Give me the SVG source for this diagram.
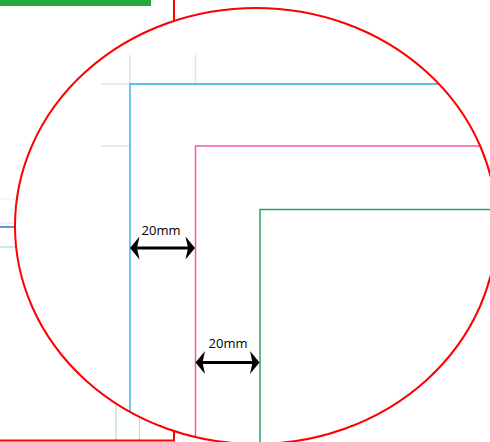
<svg xmlns="http://www.w3.org/2000/svg" width="490" height="442" viewBox="0 0 490 442">
<style>
.grid{stroke:#e2e2e2;stroke-width:1.5;fill:none}
.blue{stroke:#5cc0ee;stroke-width:1.8;fill:none}
.pink{stroke:#ee5aa8;stroke-width:1.5;fill:none}
.green{stroke:#2f9f57;stroke-width:1.5;fill:none}
.red{stroke:#ff0000;stroke-width:2;fill:none}
.dim{stroke:#000;stroke-width:3;fill:none}
.head{fill:#000}
.lbl{font-family:"Open Sans","Noto Sans",sans-serif;font-size:13px;fill:#000;text-anchor:middle}
</style>
<defs>
<clipPath id="ell"><ellipse cx="256" cy="226" rx="241" ry="218"/></clipPath>
</defs>
<rect width="490" height="442" fill="#fff"/>
<g id="original">
<rect x="0" y="0" width="151" height="6" fill="#25a83b"/>
<line x1="0" y1="199" x2="16" y2="199" stroke="#eeeeee" stroke-width="1"/>
<line x1="0" y1="223" x2="16" y2="223" stroke="#f3dcea" stroke-width="1"/>
<line x1="0" y1="227" x2="16" y2="227" stroke="#5b9bd5" stroke-width="2"/>
<line x1="0" y1="247" x2="16" y2="247" stroke="#c3e2d0" stroke-width="1.5"/>
<line x1="116" y1="400" x2="116" y2="440" stroke="#b6dcc4" stroke-width="1.2"/>
<line x1="139.5" y1="415" x2="139.5" y2="440" stroke="#ecc6de" stroke-width="1.2"/>
<polyline class="red" points="0,440.5 174,440.5 174,0"/>
</g>
<g id="zoom" clip-path="url(#ell)">
<rect width="490" height="442" fill="#fff"/>
<g id="cropmarks">
<line class="grid" x1="130" y1="55" x2="130" y2="84"/>
<line class="grid" x1="195.5" y1="55" x2="195.5" y2="84"/>
<line class="grid" x1="101" y1="84" x2="130" y2="84"/>
<line class="grid" x1="101" y1="146" x2="130" y2="146"/>
</g>
<g id="blue-border"><polyline class="blue" points="130,450 130,84 500,84"/></g>
<g id="pink-border"><polyline class="pink" points="195.5,450 195.5,146 500,146"/></g>
<g id="green-border"><polyline class="green" points="260,450 260,209.5 500,209.5"/></g>
</g>
<g id="callout"><ellipse class="red" cx="256" cy="226" rx="241" ry="218"/></g>
<g id="connectors">
<line class="dim" x1="135" y1="248" x2="190" y2="248"/>
<path class="head" d="M130,248 L139.5,236.5 L137,248 L139.5,259.5 Z"/>
<path class="head" d="M195,248 L185.5,236.5 L188,248 L185.5,259.5 Z"/>
<line class="dim" x1="200" y1="362.5" x2="255" y2="362.5"/>
<path class="head" d="M195.5,362.5 L205,351 L202.5,362.5 L205,374 Z"/>
<path class="head" d="M259.5,362.5 L250,351 L252.5,362.5 L250,374 Z"/>
</g>
<g id="labels">
<text class="lbl" x="161" y="235">20mm</text>
<text class="lbl" x="228" y="348">20mm</text>
</g>
</svg>
